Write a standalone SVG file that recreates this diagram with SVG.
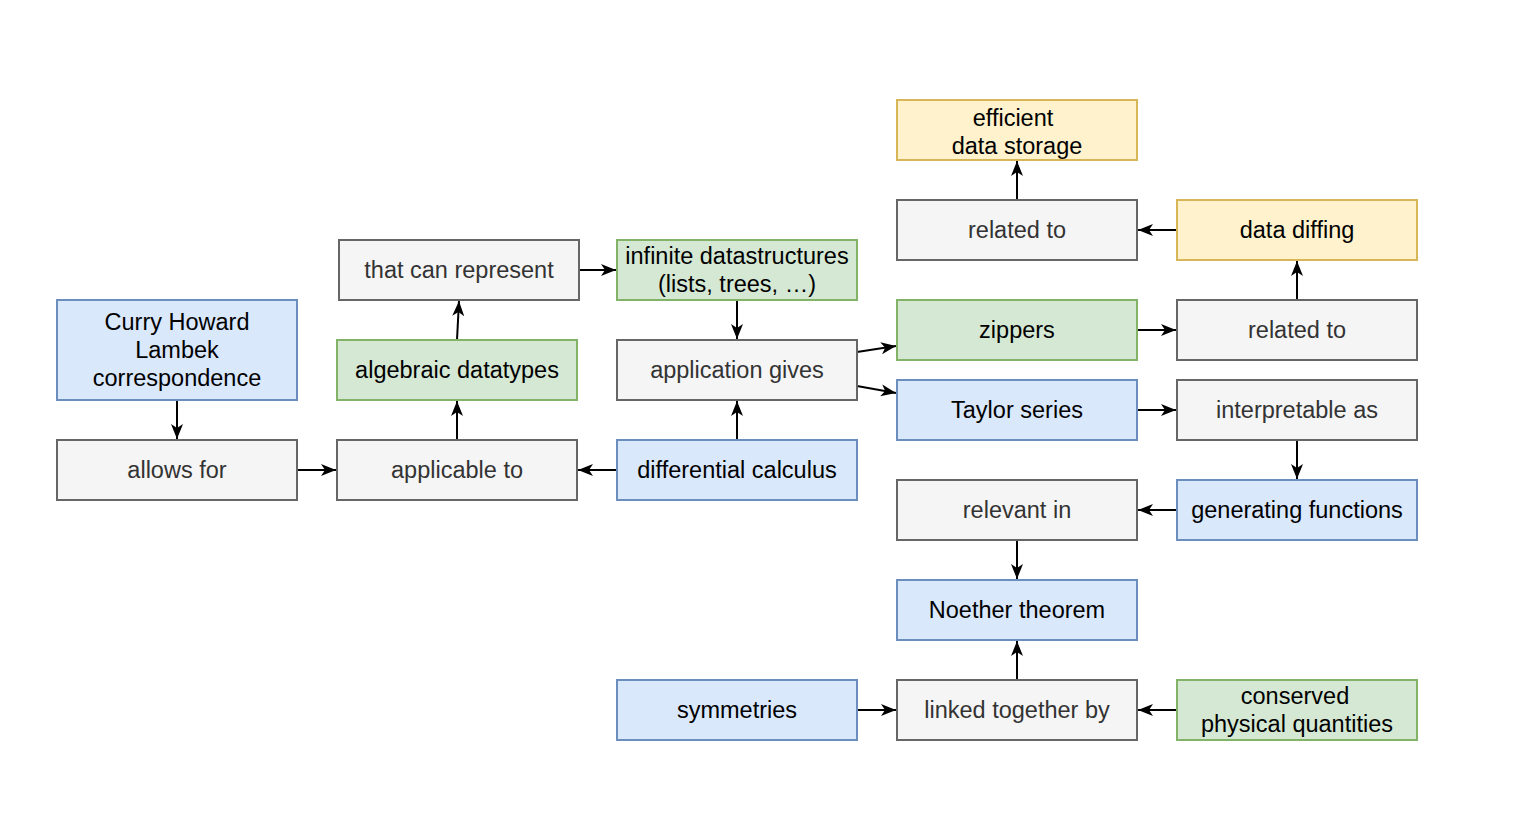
<svg xmlns="http://www.w3.org/2000/svg" width="1513" height="840" viewBox="0 0 1513 840">
<style>
rect{stroke-width:2}
.g rect{fill:#f5f5f5;stroke:#666666}
.b rect{fill:#dae8fc;stroke:#6c8ebf}
.gr rect{fill:#d5e8d4;stroke:#82b366}
.y rect{fill:#fff2cc;stroke:#d6b656}
text{font-family:"Liberation Sans",Arial,Helvetica,sans-serif;font-size:23.5px;text-anchor:middle;dominant-baseline:central;fill:#000}
.g text{fill:#333333}
#edges path{fill:none;stroke:#000;stroke-width:2;marker-end:url(#arr)}
</style>
<defs>
<marker id="arr" markerUnits="userSpaceOnUse" markerWidth="16" markerHeight="14" refX="15" refY="7" orient="auto">
<path d="M0,1 L15,7 L0,13 L4,7 z" fill="#000" stroke="none"/>
</marker>
</defs>
<rect width="1513" height="840" fill="#ffffff"/>
<g id="edges">
<path d="M177,400 V439"/>
<path d="M297,470 H336"/>
<path d="M457,440 V401"/>
<path d="M457,340 L459,301"/>
<path d="M579,270 H616"/>
<path d="M617,470 H578"/>
<path d="M737,440 V401"/>
<path d="M737,300 V339"/>
<path d="M857,352 L896,346"/>
<path d="M857,386 L896,393"/>
<path d="M1137,330 H1176"/>
<path d="M1297,300 V261"/>
<path d="M1177,230 H1138"/>
<path d="M1017,200 V161"/>
<path d="M1137,410 H1176"/>
<path d="M1297,440 V479"/>
<path d="M1177,510 H1138"/>
<path d="M1017,540 V579"/>
<path d="M1017,680 V641"/>
<path d="M857,710 H896"/>
<path d="M1177,710 H1138"/>
</g>
<g id="n-curry" class="b"><rect x="57" y="300" width="240" height="100"/><text x="177" y="322">Curry Howard</text><text x="177" y="350">Lambek</text><text x="177" y="378">correspondence</text></g>
<g id="n-allows" class="g"><rect x="57" y="440" width="240" height="60"/><text x="177" y="470">allows for</text></g>
<g id="n-applicable" class="g"><rect x="337" y="440" width="240" height="60"/><text x="457" y="470">applicable to</text></g>
<g id="n-algebraic" class="gr"><rect x="337" y="340" width="240" height="60"/><text x="457" y="370">algebraic datatypes</text></g>
<g id="n-represent" class="g"><rect x="339" y="240" width="240" height="60"/><text x="459" y="270">that can represent</text></g>
<g id="n-infinite" class="gr"><rect x="617" y="240" width="240" height="60"/><text x="737" y="256">infinite datastructures</text><text x="737" y="284">(lists, trees, …)</text></g>
<g id="n-appgives" class="g"><rect x="617" y="340" width="240" height="60"/><text x="737" y="370">application gives</text></g>
<g id="n-diffcalc" class="b"><rect x="617" y="440" width="240" height="60"/><text x="737" y="470">differential calculus</text></g>
<g id="n-efficient" class="y"><rect x="897" y="100" width="240" height="60"/><text x="1013" y="118">efficient</text><text x="1017" y="146">data storage</text></g>
<g id="n-related1" class="g"><rect x="897" y="200" width="240" height="60"/><text x="1017" y="230">related to</text></g>
<g id="n-diffing" class="y"><rect x="1177" y="200" width="240" height="60"/><text x="1297" y="230">data diffing</text></g>
<g id="n-zippers" class="gr"><rect x="897" y="300" width="240" height="60"/><text x="1017" y="330">zippers</text></g>
<g id="n-related2" class="g"><rect x="1177" y="300" width="240" height="60"/><text x="1297" y="330">related to</text></g>
<g id="n-taylor" class="b"><rect x="897" y="380" width="240" height="60"/><text x="1017" y="410">Taylor series</text></g>
<g id="n-interp" class="g"><rect x="1177" y="380" width="240" height="60"/><text x="1297" y="410">interpretable as</text></g>
<g id="n-genfun" class="b"><rect x="1177" y="480" width="240" height="60"/><text x="1297" y="510">generating functions</text></g>
<g id="n-relevant" class="g"><rect x="897" y="480" width="240" height="60"/><text x="1017" y="510">relevant in</text></g>
<g id="n-noether" class="b"><rect x="897" y="580" width="240" height="60"/><text x="1017" y="610">Noether theorem</text></g>
<g id="n-symm" class="b"><rect x="617" y="680" width="240" height="60"/><text x="737" y="710">symmetries</text></g>
<g id="n-linked" class="g"><rect x="897" y="680" width="240" height="60"/><text x="1017" y="710">linked together by</text></g>
<g id="n-conserved" class="gr"><rect x="1177" y="680" width="240" height="60"/><text x="1295" y="696">conserved</text><text x="1297" y="724">physical quantities</text></g>
</svg>
